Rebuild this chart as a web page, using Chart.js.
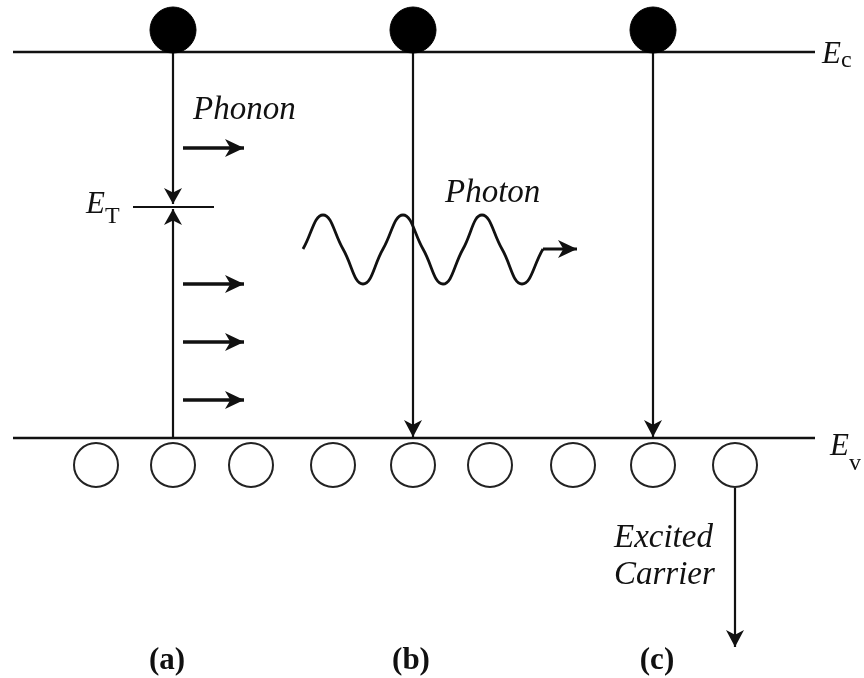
<!DOCTYPE html>
<html lang="en">
<head>
    <meta charset="UTF-8">
    <title>Recombination processes</title>
    <script src="https://cdn.jsdelivr.net/npm/chart.js@4.4.1/dist/chart.umd.min.js"></script>
    <style>
        html, body {
            margin: 0;
            padding: 0;
            background-color: #ffffff;
        }
        #wrap {
            width: 864px;
            height: 678px;
        }
    </style>
</head>
<body>
<div id="wrap">
    <canvas id="bandChart" width="864" height="678"></canvas>
</div>

<script>
    // band diagram values (chart units: x to the right, y downward)
    var bandX = [13, 815];
    var conductionY = 52;
    var valenceY = 438;
    var trapX = [133, 214];
    var trapY = 207;

    var columnLabels = ['(a)', '(b)', '(c)'];
    var columnX = [173, 413, 653];
    var electronY = 30;

    var holeX = [96, 173, 251, 333, 413, 490, 573, 653, 735];
    var holeY = 465;

    var phononX = [183, 244];
    var phononY = [148, 284, 342, 400];

    // photon wave: start, peaks, crossings, troughs
    var waveX = [303, 323, 343, 363, 383, 403, 423, 443, 463, 482, 502, 522, 543];
    var waveY = [249, 215, 249, 284, 249, 215, 249, 284, 249, 215, 249, 284, 249];
    var photonTailX = [543, 577];

    var carrierX = 735;
    var carrierY = [488, 647];

    var serif = "'Liberation Serif', 'DejaVu Serif', serif";
    var ink = '#111111';

    function seg(x0, y0, x1, y1) {
        return [{x: x0, y: y0}, {x: x1, y: y1}];
    }

    function lineSet(points, width, arrow) {
        return {
            type: 'scatter',
            data: points,
            showLine: true,
            borderColor: ink,
            borderWidth: width,
            pointRadius: 0,
            clip: false,
            arrowHead: arrow || null
        };
    }

    var datasets = [];

    // electrons on Ec
    datasets.push({
        type: 'scatter',
        data: columnX.map(function(x) { return {x: x, y: electronY}; }),
        pointStyle: 'circle',
        pointRadius: 23,
        backgroundColor: '#000000',
        borderColor: '#000000',
        borderWidth: 1,
        clip: false
    });

    // holes under Ev
    datasets.push({
        type: 'scatter',
        data: holeX.map(function(x) { return {x: x, y: holeY}; }),
        pointStyle: 'circle',
        pointRadius: 22,
        backgroundColor: '#ffffff',
        borderColor: '#222222',
        borderWidth: 2,
        clip: false
    });

    // band edges and trap level
    datasets.push(lineSet(seg(bandX[0], conductionY, bandX[1], conductionY), 2.5));
    datasets.push(lineSet(seg(bandX[0], valenceY, bandX[1], valenceY), 2.5));
    datasets.push(lineSet(seg(trapX[0], trapY, trapX[1], trapY), 2.2));

    // (a) trap assisted: down to ET, up from Ev
    datasets.push(lineSet(seg(columnX[0], conductionY, columnX[0], trapY - 3), 2.2, {len: 16, half: 9}));
    datasets.push(lineSet(seg(columnX[0], valenceY, columnX[0], trapY + 2), 2.2, {len: 16, half: 9}));
    // (b) radiative, (c) Auger
    datasets.push(lineSet(seg(columnX[1], conductionY, columnX[1], valenceY - 1), 2.2, {len: 17, half: 9}));
    datasets.push(lineSet(seg(columnX[2], conductionY, columnX[2], valenceY - 1), 2.2, {len: 17, half: 9}));
    // excited carrier
    datasets.push(lineSet(seg(carrierX, carrierY[0], carrierX, carrierY[1]), 2.2, {len: 17, half: 9}));

    // phonons
    phononY.forEach(function(y) {
        datasets.push(lineSet(seg(phononX[0], y, phononX[1], y), 3.5, {len: 19, half: 9}));
    });

    // photon wave and its tail arrow
    var wave = lineSet(waveX.map(function(x, i) { return {x: x, y: waveY[i]}; }), 2.8);
    wave.tension = 0.45;
    datasets.push(wave);
    datasets.push(lineSet(seg(photonTailX[0], waveY[waveY.length - 1], photonTailX[1], waveY[waveY.length - 1]), 2.8, {len: 19, half: 9}));

    var labels = [
        {parts: [{t: 'Phonon', f: 'italic 33px'}], x: 193, y: 119},
        {parts: [{t: 'Photon', f: 'italic 33px'}], x: 445, y: 202},
        {parts: [{t: 'Excited', f: 'italic 33px'}], x: 614, y: 547},
        {parts: [{t: 'Carrier', f: 'italic 33px'}], x: 614, y: 584},
        {parts: [{t: 'E', f: 'italic 31px'}, {t: 'c', f: '24px', dy: 4}], x: 822, y: 63},
        {parts: [{t: 'E', f: 'italic 31px'}, {t: 'T', f: '24px', dy: 10}], x: 86, y: 213},
        {parts: [{t: 'E', f: 'italic 31px'}, {t: 'v', f: '24px', dy: 15}], x: 830, y: 455}
    ];
    var labelY = 669;

    var arrowPlugin = {
        id: 'arrowHeads',
        afterDatasetsDraw: function(chart) {
            var ctx = chart.ctx;
            chart.data.datasets.forEach(function(ds, i) {
                if (!ds.arrowHead) return;
                var pts = chart.getDatasetMeta(i).data;
                var a = pts[pts.length - 2], b = pts[pts.length - 1];
                var ang = Math.atan2(b.y - a.y, b.x - a.x);
                var len = ds.arrowHead.len, half = ds.arrowHead.half;
                ctx.save();
                ctx.translate(b.x, b.y);
                ctx.rotate(ang);
                ctx.fillStyle = ink;
                ctx.beginPath();
                ctx.moveTo(0, 0);
                ctx.lineTo(-len, -half);
                ctx.lineTo(-len * 0.72, 0);
                ctx.lineTo(-len, half);
                ctx.closePath();
                ctx.fill();
                ctx.restore();
            });
        }
    };

    var textPlugin = {
        id: 'diagramText',
        afterDraw: function(chart) {
            var ctx = chart.ctx;
            var sx = chart.scales.x, sy = chart.scales.y;
            ctx.save();
            ctx.fillStyle = ink;
            ctx.textBaseline = 'alphabetic';
            labels.forEach(function(l) {
                var x = sx.getPixelForValue(l.x);
                var y = sy.getPixelForValue(l.y);
                l.parts.forEach(function(p) {
                    ctx.font = p.f + ' ' + serif;
                    ctx.textAlign = 'left';
                    ctx.fillText(p.t, x, y + (p.dy || 0));
                    x += ctx.measureText(p.t).width;
                });
            });
            ctx.font = 'bold 31px ' + serif;
            ctx.textAlign = 'center';
            columnLabels.forEach(function(t, i) {
                var cx = [167, 411, 657][i];
                ctx.fillText(t, sx.getPixelForValue(cx), sy.getPixelForValue(labelY));
            });
            ctx.restore();
        }
    };

    new Chart(document.getElementById('bandChart').getContext('2d'), {
        type: 'scatter',
        data: {datasets: datasets},
        options: {
            responsive: false,
            animation: false,
            devicePixelRatio: 1,
            layout: {padding: 0, autoPadding: false},
            plugins: {
                legend: {display: false},
                tooltip: {enabled: false}
            },
            scales: {
                x: {type: 'linear', min: 0, max: 864, display: false},
                y: {type: 'linear', min: 0, max: 678, reverse: true, display: false}
            }
        },
        plugins: [arrowPlugin, textPlugin]
    });
</script>
</body>
</html>
